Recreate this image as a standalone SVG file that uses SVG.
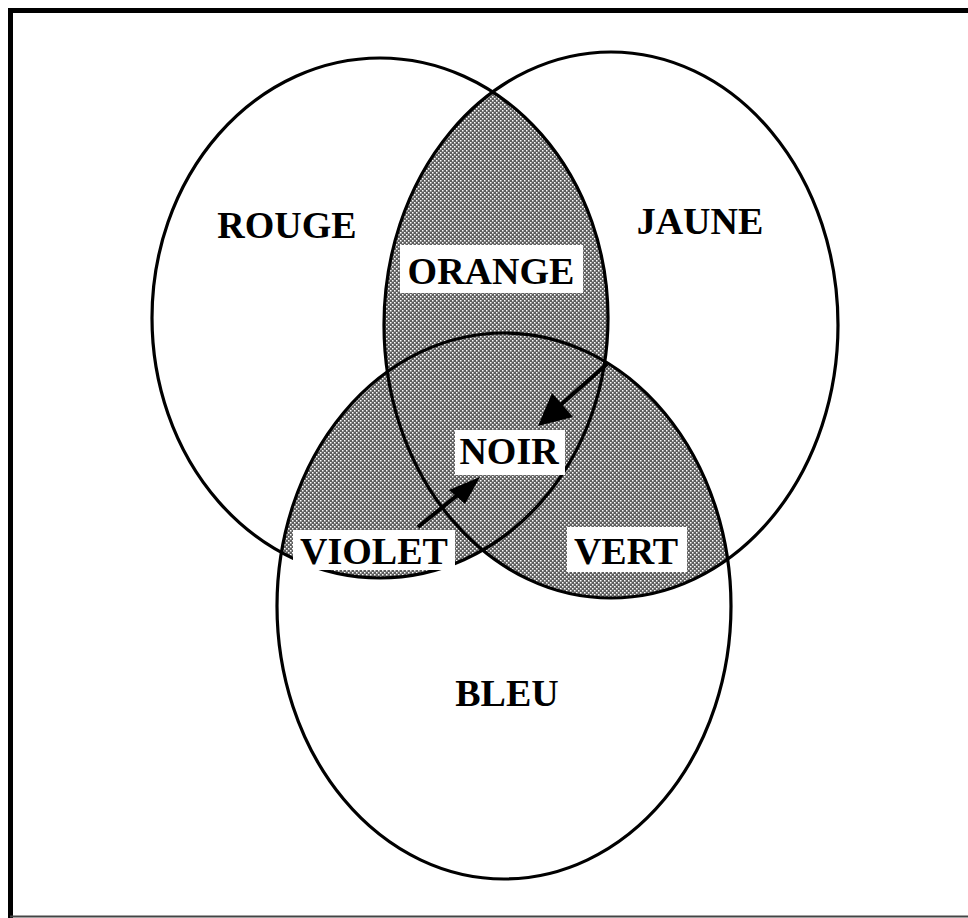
<svg xmlns="http://www.w3.org/2000/svg" width="968" height="918" viewBox="0 0 968 918">
<style>
.ring{fill:none;stroke:#000;stroke-width:3.2}
.lbl{font-family:"Liberation Serif","Times New Roman",serif;font-weight:bold;font-size:38px;fill:#000;text-anchor:middle}
.box{fill:#fff}
.shade{fill:url(#dots)}
.arrow{stroke:#000;stroke-width:4;fill:none}
</style>
<defs>
<pattern id="dots" patternUnits="userSpaceOnUse" width="4" height="4">
<rect width="4" height="4" fill="#5e5e5e"/>
<rect x="0" y="0" width="1.5" height="1.5" fill="#fff"/>
<rect x="2" y="2" width="1.5" height="1.5" fill="#fff"/>
</pattern>
<clipPath id="cRouge"><ellipse cx="380" cy="318" rx="228" ry="260"/></clipPath>
<clipPath id="cJaune"><ellipse cx="611" cy="325" rx="227" ry="273"/></clipPath>
</defs>
<rect width="968" height="918" fill="#fff"/>
<path d="M10.5,918 V10.5 H968" fill="none" stroke="#000" stroke-width="5"/>
<line x1="10" y1="916.5" x2="968" y2="916.5" stroke="#444" stroke-width="2"/>

<g id="shading">
<ellipse class="shade" cx="611" cy="325" rx="227" ry="273" clip-path="url(#cRouge)"/>
<ellipse class="shade" cx="504" cy="606" rx="227" ry="273" clip-path="url(#cRouge)"/>
<ellipse class="shade" cx="504" cy="606" rx="227" ry="273" clip-path="url(#cJaune)"/>
</g>

<g id="rouge"><ellipse class="ring" cx="380" cy="318" rx="228" ry="260"/><text class="lbl" x="287" y="238">ROUGE</text></g>
<g id="jaune"><ellipse class="ring" cx="611" cy="325" rx="227" ry="273"/><text class="lbl" x="700" y="234">JAUNE</text></g>
<g id="bleu"><ellipse class="ring" cx="504" cy="606" rx="227" ry="273"/><text class="lbl" x="507" y="706">BLEU</text></g>

<g id="connectors">
<line class="arrow" x1="607" y1="364" x2="548" y2="416"/>
<polygon points="538,426 552,393 573,417" fill="#000"/>
<line class="arrow" x1="418" y1="527" x2="470" y2="485"/>
<polygon points="480,477 449,490 465,504" fill="#000"/>
</g>

<g id="orange"><rect class="box" x="400" y="245" width="183" height="48"/><text class="lbl" x="491" y="284">ORANGE</text></g>
<g id="noir"><rect class="box" x="455" y="430" width="110" height="45"/><text class="lbl" x="509" y="464">NOIR</text></g>
<g id="violet"><rect class="box" x="293" y="530" width="162" height="40"/><text class="lbl" x="374" y="564">VIOLET</text></g>
<g id="vert"><rect class="box" x="567" y="527" width="120" height="45"/><text class="lbl" x="626" y="564">VERT</text></g>
</svg>
